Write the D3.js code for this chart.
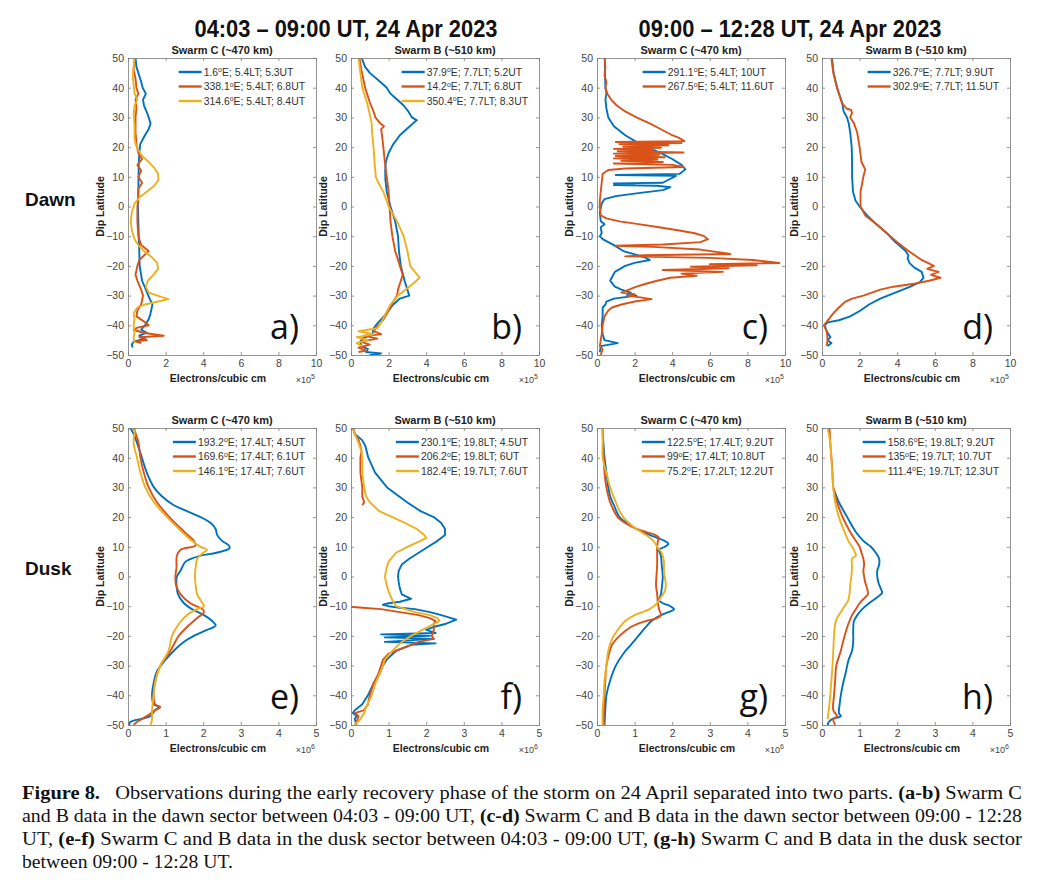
<!DOCTYPE html>
<html>
<head>
<meta charset="utf-8">
<script src="https://cdn.jsdelivr.net/npm/d3@7"></script>
<style>
  body { margin: 0; background: #fff; }
  svg { display: block; }
</style>
</head>
<body>
<div id="chart"></div>
<script>
// Line colours (MATLAB default order)
const COLORS = ['#0072BD', '#D95319', '#EDB120'];

// Tick values
const latTicks = [-50, -40, -30, -20, -10, 0, 10, 20, 30, 40, 50];
const dawnTicks = [0, 2, 4, 6, 8, 10];
const duskTicks = [0, 1, 2, 3, 4, 5];

// Legend labels
const legendA = ['1.6^oE; 5.4LT; 5.3UT', '338.1^oE; 5.4LT; 6.8UT', '314.6^oE; 5.4LT; 8.4UT'];
const legendB = ['37.9^oE; 7.7LT; 5.2UT', '14.2^oE; 7.7LT; 6.8UT', '350.4^oE; 7.7LT; 8.3UT'];
const legendC = ['291.1^oE; 5.4LT; 10UT', '267.5^oE; 5.4LT; 11.6UT'];
const legendD = ['326.7^oE; 7.7LT; 9.9UT', '302.9^oE; 7.7LT; 11.5UT'];
const legendE = ['193.2^oE; 17.4LT; 4.5UT', '169.6^oE; 17.4LT; 6.1UT', '146.1^oE; 17.4LT; 7.6UT'];
const legendF = ['230.1^oE; 19.8LT; 4.5UT', '206.2^oE; 19.8LT; 6UT', '182.4^oE; 19.7LT; 7.6UT'];
const legendG = ['122.5^oE; 17.4LT; 9.2UT', '99^oE; 17.4LT; 10.8UT', '75.2^oE; 17.2LT; 12.2UT'];
const legendH = ['158.6^oE; 19.8LT; 9.2UT', '135^oE; 19.7LT; 10.7UT', '111.4^oE; 19.7LT; 12.3UT'];

// Profiles: [dip latitude, electron density] (density in units of the axis multiplier)
// a) Swarm C, dawn, 04:03-09:00 UT (x1e5)
const aBlue = [[50,0.4],[47,0.45],[45,0.55],[42,0.7],[40,0.78],[38,0.95],[36,0.8],[34,0.85],[31,1.05],[28,1.2],[26,1.1],[24,0.9],[21,0.65],[18,0.6],[14,0.57],[10,0.56],[5,0.55],[0,0.53],[-5,0.55],[-10,0.57],[-15,0.6],[-20,0.62],[-25,0.75],[-28,0.95],[-31,1.15],[-33,1.3],[-36,1.2],[-38,1.1],[-40,0.9],[-41.5,0.7],[-42.5,1.0],[-43.5,0.6],[-44.5,0.9],[-45.5,0.3],[-46.5,0.2],[-47.5,0.25]];
const aOrange = [[50,0.35],[46,0.3],[43,0.4],[40,0.45],[38,0.55],[36,0.4],[33,0.45],[30,0.4],[25,0.4],[21,0.45],[18,0.55],[16,0.75],[14,0.5],[12,0.7],[10,0.55],[8,0.75],[6,0.55],[3,0.55],[0,0.5],[-5,0.5],[-10,0.55],[-13,0.7],[-15,1.1],[-16.5,0.85],[-18,0.6],[-20,0.5],[-23,0.4],[-25,0.5],[-28,0.7],[-30,0.8],[-33,0.7],[-35,0.5],[-37,0.45],[-38.5,0.8],[-40,1.1],[-40.8,0.5],[-41.5,0.3],[-42.5,0.8],[-43.5,1.9],[-44,0.6],[-45,1.0],[-45.5,0.4],[-46,0.7]];
const aYellow = [[50,0.35],[47,0.3],[44,0.25],[41,0.3],[38,0.35],[36,0.5],[34,0.35],[31,0.3],[27,0.35],[23,0.35],[21,0.4],[19,0.55],[17,0.75],[15,1.1],[13,1.4],[11,1.6],[9,1.62],[7,1.4],[5,1.0],[3,0.6],[1,0.35],[-2,0.2],[-5,0.15],[-8,0.2],[-11,0.35],[-13,0.55],[-15,0.85],[-17,1.25],[-19,1.55],[-21,1.6],[-23,1.35],[-25,1.05],[-27,0.95],[-29,1.1],[-30.5,1.8],[-31.2,2.15],[-32,1.6],[-33,0.9],[-34,0.5],[-36,0.3],[-38,0.35],[-40,0.3],[-42,0.35],[-44,0.3],[-46,0.35]];

// b) Swarm B, dawn, 04:03-09:00 UT (x1e5)
const bBlue = [[50,0.57],[47,0.75],[45,1.0],[42,1.55],[40,1.9],[38,2.1],[36,2.45],[34,2.8],[32,3.05],[30,3.25],[29,3.5],[28,3.3],[26,2.95],[24,2.6],[21,2.25],[18,2.0],[15,1.85],[12,1.82],[9,1.83],[5,1.9],[0,2.1],[-5,2.35],[-10,2.5],[-15,2.55],[-20,2.65],[-25,2.85],[-28,3.0],[-30,3.1],[-31,2.6],[-33,2.25],[-35,2.0],[-37,1.75],[-39,1.45],[-41,1.2],[-43,1.15],[-44.5,0.6],[-45.5,0.5],[-47,0.55],[-48,0.9],[-49,0.8],[-49.5,1.6],[-50,1.0]];
const bOrange = [[50,0.45],[46,0.55],[43,0.65],[40,0.75],[38,0.85],[35,1.0],[32,1.2],[30,1.3],[28,1.55],[27,1.75],[26,1.6],[24,1.65],[20,1.72],[15,1.8],[10,1.9],[5,2.0],[0,2.05],[-5,2.1],[-10,2.2],[-15,2.35],[-20,2.6],[-23,2.75],[-26,2.6],[-28,2.5],[-30,2.45],[-32,2.25],[-35,2.0],[-38,1.73],[-40,1.45],[-42,1.2],[-43,1.6],[-43.5,0.7],[-44.5,1.4],[-45.5,0.5],[-46.5,1.0],[-47.5,0.4],[-48.5,0.8],[-49,0.4]];
const bYellow = [[50,0.4],[45,0.5],[40,0.6],[35,0.85],[31,1.0],[28,1.1],[25,1.12],[20,1.2],[15,1.25],[10,1.32],[8,1.45],[5,1.72],[0,2.0],[-5,2.45],[-10,2.8],[-15,3.0],[-20,3.15],[-22,3.4],[-24,3.65],[-26,3.3],[-28,2.9],[-30,2.5],[-33,2.1],[-36,1.85],[-39,1.6],[-41,1.4],[-42,0.4],[-43,1.2],[-44,0.3],[-45,0.9],[-46,0.3],[-47,0.6]];

// c) Swarm C, dawn, 09:00-12:28 UT (x1e5)
const cBlue = [[50,0.42],[45,0.42],[40,0.45],[38,0.5],[36,0.45],[33,0.5],[30,0.6],[27,0.9],[24,1.5],[21,2.3],[18,3.4],[16,4.0],[14,4.5],[12.5,4.7],[11,4.4],[10.6,1.0],[10.3,4.2],[10,4.1],[9,3.8],[8,3.5],[7.8,0.9],[7.5,2.0],[7.2,0.9],[7,3.2],[6.5,3.9],[5.5,3.5],[4.5,2.2],[3.5,1.0],[2.5,0.4],[1,0.25],[-2,0.15],[-5,0.2],[-6,0.4],[-7,0.2],[-9,0.25],[-10,0.15],[-11,0.3],[-13,0.9],[-15,1.4],[-17,2.5],[-18,2.8],[-19,2.0],[-20,1.5],[-22,0.95],[-25,0.7],[-27,0.95],[-28,1.3],[-29,1.8],[-29.5,1.6],[-30,2.1],[-30.5,1.5],[-31,0.9],[-32,0.5],[-33,0.45],[-34,0.3],[-37,0.3],[-40,0.25],[-43,0.3],[-45,0.4],[-46,1.1],[-47,0.2],[-49,0.15]];
const cOrange = [[50,0.4],[47,0.45],[44,0.4],[42,0.5],[40,0.45],[38,0.55],[36,0.75],[34,1.05],[32,1.5],[30,2.1],[28,2.8],[26,3.4],[24,4.0],[23,4.4],[22,4.65],[21.7,1.0],[21.4,4.5],[21,1.2],[20.6,3.8],[20.2,1.4],[19.8,3.4],[19.4,0.9],[19,3.0],[18.6,1.1],[18.2,4.6],[17.8,0.9],[17.4,3.3],[17,1.0],[16.6,3.6],[16.2,0.9],[15.8,3.2],[15.4,1.3],[15,3.5],[14.5,0.9],[14,4.0],[13.3,4.6],[12.8,1.5],[12.3,0.6],[11,0.3],[8,0.25],[5,0.2],[2,0.15],[0,0.15],[-3,0.2],[-4,0.5],[-5,1.2],[-6,2.3],[-7,3.3],[-8,4.3],[-9,5.2],[-10,5.7],[-11,5.9],[-12,5.5],[-12.8,3.5],[-13.2,1.0],[-13.6,3.0],[-14.5,5.5],[-16,7.1],[-16.4,2.5],[-16.8,1.5],[-17.3,6.0],[-18,8.3],[-19,9.7],[-19.4,6.0],[-19.8,8.5],[-20.3,5.0],[-20.8,7.0],[-21.4,3.5],[-22,6.7],[-22.6,4.5],[-23.3,5.3],[-24,3.9],[-25,3.2],[-26,2.6],[-27,2.1],[-28,1.7],[-29,1.3],[-29.5,2.0],[-30,1.6],[-30.6,2.3],[-31.2,2.9],[-32,2.0],[-33,1.3],[-34,0.8],[-35,0.6],[-37,0.4],[-40,0.3],[-43,0.25],[-45,0.2],[-47,0.15],[-48,0.3],[-50,0.2]];

// d) Swarm B, dawn, 09:00-12:28 UT (x1e5)
const dBlue = [[50,0.53],[45,0.62],[40,0.8],[35,1.07],[32,1.15],[30,1.33],[28,1.42],[25,1.5],[20,1.58],[15,1.6],[10,1.6],[5,1.65],[2,1.78],[0,2.0],[-3,2.4],[-6,2.9],[-9,3.45],[-12,3.9],[-15,4.45],[-16.5,4.6],[-17.5,4.55],[-19,4.65],[-20.5,4.9],[-22,5.3],[-24,5.4],[-25.5,5.2],[-27,4.7],[-29,3.9],[-31,3.1],[-33,2.5],[-35,2.05],[-37,1.5],[-38.3,0.9],[-39,0.3],[-40,0.15],[-42,0.25],[-44,0.45],[-45,0.3],[-46,0.5],[-47,0.3]];
const dOrange = [[50,0.5],[45,0.6],[40,0.8],[35,1.05],[33,1.3],[32.5,1.55],[31.5,1.6],[30,1.5],[28,1.7],[25,1.87],[20,2.0],[15,2.1],[12.5,2.3],[10,2.2],[5,2.05],[0,2.05],[-3,2.3],[-6,2.9],[-9,3.45],[-12,4.0],[-15,4.6],[-18,5.3],[-20,5.95],[-21,5.6],[-22,6.2],[-23,5.8],[-24,6.3],[-25,5.7],[-26,4.9],[-27,3.8],[-28,3.1],[-30,2.2],[-31,1.6],[-32,1.25],[-34,0.9],[-36,0.6],[-38,0.35],[-40,0.1],[-42,0.25],[-45,0.3],[-47,0.25]];

// e) Swarm C, dusk, 04:03-09:00 UT (x1e6)
const eBlue = [[50,0.06],[48,0.15],[45,0.24],[40,0.37],[35,0.5],[30,0.69],[27,0.9],[24,1.22],[22,1.57],[20,1.93],[18,2.2],[16,2.33],[14,2.37],[12,2.5],[10.5,2.68],[9.5,2.7],[8,2.35],[7,1.93],[5,1.53],[2,1.4],[0,1.3],[-3,1.29],[-6,1.33],[-9,1.49],[-11,1.7],[-13,2.02],[-15,2.24],[-16.5,2.33],[-18,2.1],[-20,1.75],[-22,1.49],[-25,1.22],[-28,1.0],[-32,0.77],[-36,0.68],[-40,0.64],[-43,0.68],[-44,0.82],[-45,0.72],[-47,0.6],[-48,0.33],[-49,0.06],[-50,0.03]];
const eOrange = [[50,0.15],[45,0.28],[40,0.33],[35,0.42],[30,0.55],[25,0.77],[20,1.1],[15,1.5],[12,1.75],[10.5,1.8],[9,1.4],[7,1.3],[3,1.29],[0,1.26],[-3,1.28],[-6,1.4],[-9,1.66],[-11,1.98],[-12,2.02],[-14,1.84],[-17,1.57],[-20,1.35],[-25,1.13],[-30,0.86],[-35,0.73],[-40,0.68],[-43,0.72],[-44,0.86],[-45,0.73],[-47,0.5],[-49,0.24],[-50,0.15]];
const eYellow = [[50,0.2],[45,0.15],[40,0.24],[35,0.33],[30,0.46],[25,0.69],[20,1.04],[15,1.44],[12,1.7],[10,1.93],[9,2.1],[8,2.0],[6,1.84],[3,1.8],[0,1.78],[-3,1.8],[-6,1.84],[-9,1.98],[-10,2.02],[-11,1.84],[-13,1.57],[-16,1.35],[-20,1.17],[-25,1.08],[-30,0.86],[-35,0.73],[-40,0.68],[-45,0.64],[-48,0.64],[-50,0.6]];

// f) Swarm B, dusk, 04:03-09:00 UT (x1e6); null marks a data gap
const fBlue = [[50,0.06],[48,0.1],[46,0.29],[44,0.38],[42,0.42],[40,0.46],[35,0.64],[30,0.96],[25,1.49],[22,1.85],[20,2.2],[18,2.4],[16,2.5],[14,2.5],[12,2.3],[10,2.05],[8,1.8],[6,1.55],[4,1.35],[2,1.27],[0,1.25],[-2,1.27],[-4,1.3],[-6,1.35],[-7.5,1.6],[-8.5,1.3],[-9,1.0],[-9.5,0.85],[-10,1.0],[-10.5,1.3],[-11,1.7],[-12,2.1],[-13,2.4],[-14.5,2.8],[-16,2.5],[-17,2.2],[-18,2.0],[-19,2.25],[-19.5,0.8],[-20,2.1],[-20.5,0.9],[-21,2.2],[-22,0.9],[-22.5,2.25],[-23,1.6],[-25,1.2],[-28,0.95],[-30,0.85],[-33,0.75],[-36,0.6],[-40,0.45],[-43,0.3],[-45,0.1],[-46,0.05],[-47,0.15],[-48,0.1],[-50,0.15]];
const fOrange = [[50,0.05],[48,0.1],[46,0.2],[44,0.25],[42,0.28],[40,0.25],[35,0.25],[30,0.3],[27,0.3],[25,0.35],[24,0.3],null,[-10.2,0.0],[-10.5,0.3],[-11,0.8],[-12,1.3],[-13,1.8],[-14,2.1],[-15,2.25],[-16,2.2],[-18,2.2],[-20,2.15],[-21,2.2],[-22,1.8],[-24,1.4],[-26,1.0],[-28,0.85],[-30,0.8],[-33,0.72],[-36,0.6],[-40,0.5],[-43,0.45],[-45,0.35],[-46,0.1],[-47,0.2],[-49,0.15],[-50,0.1]];
const fYellow = [[50,0.05],[48,0.1],[45,0.2],[42,0.28],[40,0.3],[35,0.3],[30,0.35],[27,0.4],[25,0.5],[22,0.75],[20,1.1],[18,1.45],[16,1.75],[14,1.95],[13,2.0],[12,1.85],[10,1.5],[8,1.2],[5,1.0],[3,0.95],[0,0.9],[-3,0.95],[-5,1.0],[-8,1.1],[-10,1.2],[-12,1.7],[-13,2.1],[-14,2.3],[-15,2.35],[-16,2.2],[-18,1.9],[-20,1.6],[-22,1.35],[-25,1.1],[-28,0.9],[-30,0.85],[-33,0.75],[-36,0.65],[-40,0.55],[-44,0.4],[-46,0.35],[-48,0.25],[-50,0.1]];

// g) Swarm C, dusk, 09:00-12:28 UT (x1e6)
const gBlue = [[50,0.15],[45,0.17],[40,0.2],[35,0.25],[30,0.3],[27,0.35],[24,0.45],[20,0.6],[18,0.8],[16,1.05],[14,1.4],[13,1.6],[12,1.8],[11,1.9],[10,1.8],[9,1.65],[7,1.7],[4,1.72],[0,1.75],[-3,1.73],[-6,1.7],[-8,1.65],[-9,1.75],[-10,1.95],[-11,2.05],[-12,1.9],[-13,1.7],[-15,1.45],[-17,1.3],[-20,1.1],[-23,0.9],[-26,0.7],[-30,0.5],[-35,0.35],[-40,0.25],[-45,0.22],[-50,0.2]];
const gOrange = [[50,0.15],[45,0.16],[40,0.18],[35,0.2],[30,0.25],[25,0.35],[20,0.55],[18,0.75],[16,1.05],[15,1.3],[14,1.55],[13,1.65],[12,1.62],[10,1.6],[7,1.6],[4,1.6],[0,1.58],[-3,1.57],[-6,1.6],[-9,1.62],[-11,1.65],[-13,1.7],[-14,1.6],[-15,1.3],[-17,0.9],[-20,0.6],[-23,0.4],[-27,0.3],[-30,0.25],[-35,0.22],[-40,0.2],[-45,0.18],[-50,0.18]];
const gYellow = [[50,0.15],[45,0.15],[40,0.15],[37,0.2],[35,0.25],[30,0.35],[25,0.5],[22,0.6],[20,0.7],[18,0.85],[16,1.05],[14,1.3],[12,1.5],[10,1.6],[8,1.72],[5,1.78],[2,1.78],[0,1.8],[-3,1.83],[-5,1.8],[-7,1.7],[-9,1.6],[-11,1.4],[-13,1.0],[-15,0.75],[-18,0.55],[-21,0.4],[-25,0.3],[-30,0.25],[-35,0.2],[-40,0.18],[-45,0.15],[-50,0.15]];

// h) Swarm B, dusk, 09:00-12:28 UT (x1e6)
const hBlue = [[29.5,0.31],[25,0.45],[20,0.67],[15,0.9],[12,1.1],[10,1.3],[8,1.43],[6,1.52],[4,1.52],[2,1.47],[0,1.47],[-2,1.5],[-4,1.56],[-5.5,1.6],[-7,1.47],[-9,1.25],[-11,1.07],[-13,0.94],[-15,0.85],[-18,0.83],[-22,0.83],[-25,0.8],[-28,0.71],[-30,0.67],[-33,0.62],[-36,0.56],[-40,0.5],[-43,0.47],[-46,0.45],[-47,0.5],[-48,0.27],[-49,0.18],[-50,0.15]];
const hOrange = [[50,0.2],[45,0.22],[40,0.25],[35,0.28],[30,0.3],[25,0.4],[20,0.55],[15,0.75],[12,0.9],[10,1.0],[8,1.05],[6,1.1],[4,1.12],[2,1.1],[0,1.12],[-2,1.15],[-4,1.2],[-6,1.22],[-7,1.15],[-9,1.0],[-11,0.9],[-13,0.8],[-16,0.7],[-20,0.6],[-25,0.5],[-30,0.38],[-35,0.35],[-40,0.32],[-45,0.3],[-47,0.4],[-48,0.3],[-50,0.35]];
const hYellow = [[50,0.15],[45,0.22],[40,0.25],[35,0.27],[30,0.3],[25,0.35],[20,0.45],[15,0.6],[12,0.7],[10,0.8],[8,0.88],[7,0.9],[6,0.8],[3,0.8],[0,0.78],[-3,0.75],[-6,0.73],[-8,0.7],[-10,0.6],[-12,0.5],[-14,0.4],[-16,0.35],[-20,0.32],[-25,0.3],[-30,0.28],[-35,0.25],[-40,0.22],[-45,0.18],[-48,0.15]];

// Layout
const W = 1050, H = 882;
const PW = 188, PH = 297;
const SANS = '"Liberation Sans", Arial, sans-serif';
const AXIS_COLOR = '#7a7a7a';
const LABEL_COLOR = '#444';

const panels = [
    { letter: 'a', left: 128, top: 58, ticks: dawnTicks, exp: '5', title: 'Swarm C (~470 km)', legend: legendA, series: [aBlue, aOrange, aYellow], smooth: false },
    { letter: 'b', left: 351, top: 58, ticks: dawnTicks, exp: '5', title: 'Swarm B (~510 km)', legend: legendB, series: [bBlue, bOrange, bYellow], smooth: false },
    { letter: 'c', left: 597, top: 58, ticks: dawnTicks, exp: '5', title: 'Swarm C (~470 km)', legend: legendC, series: [cBlue, cOrange], smooth: false },
    { letter: 'd', left: 822, top: 58, ticks: dawnTicks, exp: '5', title: 'Swarm B (~510 km)', legend: legendD, series: [dBlue, dOrange], smooth: false },
    { letter: 'e', left: 128, top: 428, ticks: duskTicks, exp: '6', title: 'Swarm C (~470 km)', legend: legendE, series: [eBlue, eOrange, eYellow], smooth: true },
    { letter: 'f', left: 351, top: 428, ticks: duskTicks, exp: '6', title: 'Swarm B (~510 km)', legend: legendF, series: [fBlue, fOrange, fYellow], smooth: false },
    { letter: 'g', left: 597, top: 428, ticks: duskTicks, exp: '6', title: 'Swarm C (~470 km)', legend: legendG, series: [gBlue, gOrange, gYellow], smooth: true },
    { letter: 'h', left: 822, top: 428, ticks: duskTicks, exp: '6', title: 'Swarm B (~510 km)', legend: legendH, series: [hBlue, hOrange, hYellow], smooth: true }
];

const svg = d3.select('#chart')
    .append('svg')
    .attr('width', W)
    .attr('height', H)
    .style('font-family', SANS);

svg.append('rect').attr('width', W).attr('height', H).attr('fill', '#fff');

// Column headers
const headers = [
    { text: '04:03 \u2013 09:00 UT, 24 Apr 2023', cx: 346 },
    { text: '09:00 \u2013 12:28 UT, 24 Apr 2023', cx: 790 }
];
headers.forEach(h => {
    svg.append('text')
        .attr('x', h.cx)
        .attr('y', 37)
        .attr('text-anchor', 'middle')
        .attr('font-family', '"Liberation Sans Narrow", "Arial Narrow", ' + SANS)
        .attr('font-weight', 'bold')
        .attr('font-size', 23)
        .attr('textLength', 303)
        .attr('lengthAdjust', 'spacingAndGlyphs')
        .attr('fill', '#111')
        .text(h.text);
});

// Row labels
[['Dawn', 206], ['Dusk', 575]].forEach(([t, yy]) => {
    svg.append('text')
        .attr('x', 25)
        .attr('y', yy)
        .attr('font-weight', 'bold')
        .attr('font-size', 19)
        .attr('fill', '#111')
        .text(t);
});

panels.forEach(p => {
    const xMax = p.ticks[p.ticks.length - 1];
    const x = d3.scaleLinear().domain([0, xMax]).range([p.left, p.left + PW]);
    const y = d3.scaleLinear().domain([-50, 50]).range([p.top + PH, p.top]);
    const g = svg.append('g').attr('class', 'panel-' + p.letter);

    const clipId = 'clip-' + p.letter;
    svg.append('clipPath').attr('id', clipId)
        .append('rect')
        .attr('x', p.left).attr('y', p.top)
        .attr('width', PW).attr('height', PH);

    // Profiles
    const line = d3.line()
        .defined(d => d !== null)
        .x(d => x(d[1]))
        .y(d => y(d[0]))
        .curve(p.smooth ? d3.curveCatmullRom.alpha(0.5) : d3.curveLinear);

    const lines = g.append('g').attr('clip-path', `url(#${clipId})`);
    p.series.forEach((s, i) => {
        lines.append('path')
            .attr('d', line(s))
            .attr('fill', 'none')
            .attr('stroke', COLORS[i])
            .attr('stroke-width', 1.9)
            .attr('stroke-linejoin', 'round');
    });

    // Axes (box with inward ticks)
    const styleAxis = sel => {
        sel.selectAll('.domain').attr('stroke', AXIS_COLOR).attr('stroke-width', 0.8);
        sel.selectAll('.tick line').attr('stroke', AXIS_COLOR).attr('stroke-width', 0.8);
        sel.selectAll('.tick text').attr('fill', LABEL_COLOR).attr('font-size', 10.5).attr('font-family', SANS);
    };

    g.append('g')
        .attr('transform', `translate(${p.left},0)`)
        .call(d3.axisLeft(y).tickValues(latTicks).tickSizeInner(-3).tickSizeOuter(0).tickPadding(4))
        .call(styleAxis);
    g.append('g')
        .attr('transform', `translate(${p.left + PW},0)`)
        .call(d3.axisRight(y).tickValues(latTicks).tickSizeInner(-3).tickSizeOuter(0).tickFormat(''))
        .call(styleAxis);
    g.append('g')
        .attr('transform', `translate(0,${p.top + PH})`)
        .call(d3.axisBottom(x).tickValues(p.ticks).tickSizeInner(-3).tickSizeOuter(0).tickPadding(5).tickFormat(d3.format('d')))
        .call(styleAxis);
    g.append('g')
        .attr('transform', `translate(0,${p.top})`)
        .call(d3.axisTop(x).tickValues(p.ticks).tickSizeInner(-3).tickSizeOuter(0).tickFormat(''))
        .call(styleAxis);

    // Subplot title
    g.append('text')
        .attr('x', p.left + PW / 2)
        .attr('y', p.top - 4)
        .attr('text-anchor', 'middle')
        .attr('font-weight', 'bold')
        .attr('font-size', 11)
        .attr('fill', '#222')
        .text(p.title);

    // Axis labels
    g.append('text')
        .attr('transform', `translate(${p.left - 24},${p.top + PH / 2}) rotate(-90)`)
        .attr('text-anchor', 'middle')
        .attr('font-weight', 'bold')
        .attr('font-size', 10.5)
        .attr('fill', '#222')
        .text('Dip Latitude');

    g.append('text')
        .attr('x', p.left + PW / 2 - 4)
        .attr('y', p.top + PH + 27)
        .attr('text-anchor', 'middle')
        .attr('font-weight', 'bold')
        .attr('font-size', 10.5)
        .attr('fill', '#222')
        .text('Electrons/cubic cm');

    const expText = g.append('text')
        .attr('x', p.left + PW - 1)
        .attr('y', p.top + PH + 28)
        .attr('text-anchor', 'end')
        .attr('font-size', 9)
        .attr('fill', LABEL_COLOR);
    expText.append('tspan').text('\u00d710');
    expText.append('tspan').attr('dy', -4.5).attr('font-size', 7).text(p.exp);

    // Legend
    const legendG = g.append('g');
    const rowY = i => p.top + 14 + i * 14.5;
    const rows = p.legend.map((label, i) => {
        const parts = label.split('^o');
        const t = legendG.append('text')
            .attr('y', rowY(i))
            .attr('dy', '0.35em')
            .attr('font-size', 10.4)
            .attr('fill', '#333');
        t.append('tspan').text(parts[0]);
        t.append('tspan').attr('dy', -3.5).attr('font-size', 7).text('o');
        t.append('tspan').attr('dy', 3.5).text(parts[1]);
        return t;
    });
    const maxW = d3.max(rows, t => t.node().getComputedTextLength());
    const textX = p.left + PW - 11 - maxW;
    rows.forEach((t, i) => {
        t.attr('x', textX);
        legendG.append('line')
            .attr('x1', textX - 25).attr('x2', textX - 2)
            .attr('y1', rowY(i)).attr('y2', rowY(i))
            .attr('stroke', COLORS[i])
            .attr('stroke-width', 2.4);
    });

    // Panel letter
    g.append('text')
        .attr('x', p.left + PW - 17)
        .attr('y', p.top + PH - 16)
        .attr('text-anchor', 'end')
        .attr('font-family', '"Open Sans", "Liberation Sans", sans-serif')
        .attr('font-size', 34)
        .attr('fill', '#111')
        .text(p.letter + ')');
});

// Caption
const captionLines = [
    [['Figure 8.', true], ['   Observations during the early recovery phase of the storm on 24 April separated into two parts. ', false], ['(a-b)', true], [' Swarm C', false]],
    [['and B data in the dawn sector between 04:03 - 09:00 UT, ', false], ['(c-d)', true], [' Swarm C and B data in the dawn sector between 09:00 - 12:28', false]],
    [['UT, ', false], ['(e-f)', true], [' Swarm C and B data in the dusk sector between 04:03 - 09:00 UT, ', false], ['(g-h)', true], [' Swarm C and B data in the dusk sector', false]],
    [['between 09:00 - 12:28 UT.', false]]
];
const captionWidths = [1000, 1000, 1000, 211];
captionLines.forEach((segs, i) => {
    const t = svg.append('text')
        .attr('x', 22)
        .attr('y', 799 + i * 23)
        .attr('font-family', '"Liberation Serif", "Times New Roman", serif')
        .attr('font-size', 18)
        .attr('fill', '#111')
        .attr('textLength', captionWidths[i])
        .attr('lengthAdjust', 'spacingAndGlyphs')
        .style('white-space', 'pre');
    segs.forEach(([txt, bold]) => {
        t.append('tspan')
            .attr('font-weight', bold ? 'bold' : 'normal')
            .text(txt);
    });
});
</script>
</body>
</html>
